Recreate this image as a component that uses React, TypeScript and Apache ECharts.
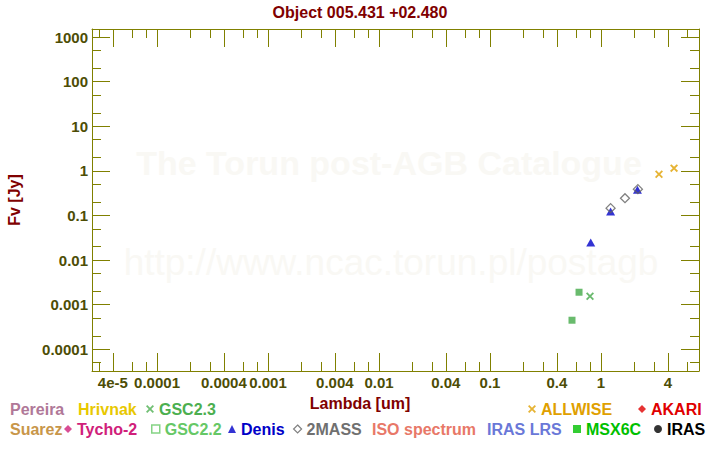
import React, { useEffect, useRef } from "react";
import * as echarts from "echarts";

const titleText = "Object 005.431 +02.480";
const xAxisTitle = "Lambda [um]";
const yAxisTitle = "Fv [Jy]";
const watermarkTitle = "The Torun post-AGB Catalogue";
const watermarkUrl = "http://www.ncac.torun.pl/postagb";

// axis structure (real units)
const xLogMin = -4.586;
const xLogMax = 0.883;
const yLogMin = -4.487;
const yLogMax = 3.18;
const xLabelValues = [4e-5, 1e-4, 4e-4, 1e-3, 4e-3, 0.01, 0.04, 0.1, 0.4, 1, 4];
const xLabelTexts = ["4e-5", "0.0001", "0.0004", "0.001", "0.004", "0.01", "0.04", "0.1", "0.4", "1", "4"];
const xMinorMantissas = [2, 3, 6, 8];
const yLabelValues = [1e-4, 1e-3, 0.01, 0.1, 1, 10, 100, 1000];
const yLabelTexts = ["0.0001", "0.001", "0.01", "0.1", "1", "10", "100", "1000"];
const yMinorMantissas = [2, 5];

// photometry (lambda in um, flux in Jy)
const gsc23Lambda = [0.796];
const gsc23Flux = [0.00155];
const gsc22Lambda = [0.634, 0.548];
const gsc22Flux = [0.0019, 0.000448];
const denisLambda = [0.808, 1.22, 2.13];
const denisFlux = [0.0247, 0.122, 0.375];
const twoMassLambda = [1.22, 1.645, 2.15];
const twoMassFlux = [0.146, 0.244, 0.389];
const allwiseLambda = [3.33, 4.55];
const allwiseFlux = [0.843, 1.15];

const OLIVE = "#808000";
const LABEL = "#4d4d05";
const DARKRED = "#800000";
const FONT = "Liberation Sans";
const CROSS = "path://M0,1.6L1.6,0L5,3.4L8.4,0L10,1.6L6.6,5L10,8.4L8.4,10L5,6.6L1.6,10L0,8.4L3.4,5Z";

const lg = (v: number) => Math.log10(v);
const pts = (xs: number[], ys: number[]) => xs.map((x, i) => [lg(x), lg(ys[i])]);

function minorTicks(mantissas: number[], lo: number, hi: number) {
  const out: number[] = [];
  for (let d = Math.floor(lo) - 1; d <= Math.ceil(hi); d++) {
    mantissas.forEach((m) => {
      const v = d + lg(m);
      if (v > lo && v < hi) out.push(v);
    });
  }
  return out;
}

function fmt(values: number[], texts: string[]) {
  return (v: number) => {
    for (let i = 0; i < values.length; i++) {
      if (Math.abs(lg(values[i]) - v) < 1e-6) return texts[i];
    }
    return "";
  };
}

type LegendSpec = {
  name: string;
  color: string;
  icon: string;
  iconStyle?: any;
  left: number;
  row: number;
};

const legendSpecs: LegendSpec[] = [
  { name: "Pereira", color: "#b07898", icon: "none", left: 5, row: 0 },
  { name: "Hrivnak", color: "#e8c800", icon: "none", left: 73, row: 0 },
  { name: "GSC2.3", color: "#4caf50", icon: CROSS, left: 146, row: 0 },
  { name: "ALLWISE", color: "#e0a000", icon: CROSS, left: 528, row: 0 },
  { name: "AKARI", color: "#e00000", icon: "diamond", left: 638, row: 0 },
  { name: "Suarez", color: "#c8964a", icon: "none", left: 5, row: 1 },
  { name: "Tycho-2", color: "#d0207a", icon: "diamond", left: 64, row: 1 },
  { name: "GSC2.2", color: "#66c866", icon: "rect", iconStyle: { color: "#ffffff", borderColor: "#66c866", borderWidth: 1.5 }, left: 151, row: 1 },
  { name: "Denis", color: "#0000c8", icon: "triangle", left: 228, row: 1 },
  { name: "2MASS", color: "#707070", icon: "diamond", iconStyle: { color: "#ffffff", borderColor: "#606060", borderWidth: 1.2 }, left: 293, row: 1 },
  { name: "ISO spectrum", color: "#e87868", icon: "none", left: 367, row: 1 },
  { name: "IRAS LRS", color: "#6a78d8", icon: "none", left: 482, row: 1 },
  { name: "MSX6C", color: "#00c000", icon: "rect", left: 573, row: 1 },
  { name: "IRAS", color: "#000000", icon: "circle", left: 654, row: 1 },
];

const seriesData: Record<string, number[][]> = {
  "GSC2.3": pts(gsc23Lambda, gsc23Flux),
  "GSC2.2": pts(gsc22Lambda, gsc22Flux),
  Denis: pts(denisLambda, denisFlux),
  "2MASS": pts(twoMassLambda, twoMassFlux),
  ALLWISE: pts(allwiseLambda, allwiseFlux),
};

const seriesStyle: Record<string, any> = {
  "GSC2.3": { symbol: CROSS, symbolSize: 8, itemStyle: { color: "#44a848" } },
  "GSC2.2": { symbol: "rect", symbolSize: 7, itemStyle: { color: "#44aa48" } },
  Denis: { symbol: "triangle", symbolSize: [9, 8], itemStyle: { color: "#0000c8" } },
  "2MASS": { symbol: "diamond", symbolSize: 9, itemStyle: { color: "rgba(0,0,0,0)", borderColor: "#606060", borderWidth: 1.3 } },
  ALLWISE: { symbol: CROSS, symbolSize: 8, itemStyle: { color: "#e0a000" } },
};

export default function App() {
  const ref = useRef<HTMLDivElement>(null);
  useEffect(() => {
    if (!ref.current) return;
    const chart = echarts.init(ref.current, undefined, { renderer: "svg" });
    const xMajor = xLabelValues.map(lg);
    const yMajor = yLabelValues.map(lg);
    const xMinor = minorTicks(xMinorMantissas, xLogMin, xLogMax);
    const yMinor = minorTicks(yMinorMantissas, yLogMin, yLogMax);
    const tickLine = { color: OLIVE, width: 1 };
    const xAxes = [
      {
        position: "bottom",
        axisLine: { show: true, onZero: false, lineStyle: tickLine },
        axisTick: { show: true, inside: true, length: 18, customValues: xMajor, lineStyle: tickLine },
        axisLabel: {
          show: true, customValues: xMajor, formatter: fmt(xLabelValues, xLabelTexts), margin: 4,
          color: LABEL, fontSize: 15, fontWeight: "bold", fontFamily: FONT, hideOverlap: false,
        },
      },
      {
        position: "bottom",
        axisLine: { show: false, onZero: false },
        axisTick: { show: true, inside: true, length: 9, customValues: xMinor, lineStyle: tickLine },
        axisLabel: { show: false },
      },
      {
        position: "top",
        axisLine: { show: true, onZero: false, lineStyle: tickLine },
        axisTick: { show: true, inside: true, length: 18, customValues: xMajor, lineStyle: tickLine },
        axisLabel: { show: false },
      },
      {
        position: "top",
        axisLine: { show: false, onZero: false },
        axisTick: { show: true, inside: true, length: 9, customValues: xMinor, lineStyle: tickLine },
        axisLabel: { show: false },
      },
    ].map((a) => ({ type: "value", min: xLogMin, max: xLogMax, splitLine: { show: false }, ...a }));
    const yAxes = [
      {
        position: "left",
        name: yAxisTitle,
        nameLocation: "middle",
        nameGap: 70,
        nameTextStyle: { color: DARKRED, fontSize: 16, fontWeight: "bold", fontFamily: FONT },
        axisLine: { show: true, onZero: false, lineStyle: tickLine },
        axisTick: { show: true, inside: true, length: 18, customValues: yMajor, lineStyle: tickLine },
        axisLabel: {
          show: true, customValues: yMajor, formatter: fmt(yLabelValues, yLabelTexts), margin: 4,
          color: LABEL, fontSize: 15, fontWeight: "bold", fontFamily: FONT,
        },
      },
      {
        position: "left",
        axisLine: { show: false, onZero: false },
        axisTick: { show: true, inside: true, length: 9, customValues: yMinor, lineStyle: tickLine },
        axisLabel: { show: false },
      },
      {
        position: "right",
        axisLine: { show: true, onZero: false, lineStyle: tickLine },
        axisTick: { show: true, inside: true, length: 18, customValues: yMajor, lineStyle: tickLine },
        axisLabel: { show: false },
      },
      {
        position: "right",
        axisLine: { show: false, onZero: false },
        axisTick: { show: true, inside: true, length: 9, customValues: yMinor, lineStyle: tickLine },
        axisLabel: { show: false },
      },
    ].map((a) => ({ type: "value", min: yLogMin, max: yLogMax, splitLine: { show: false }, ...a }));

    const drawOrder = ["GSC2.2", "GSC2.3", "Denis", "2MASS", "ALLWISE"];
    const series: any[] = legendSpecs.map((s) => {
      const st = seriesStyle[s.name] || { symbol: "circle", symbolSize: 7, itemStyle: { color: s.color } };
      const idx = drawOrder.indexOf(s.name);
      return {
        name: s.name,
        type: "scatter",
        xAxisIndex: 0,
        yAxisIndex: 0,
        data: seriesData[s.name] || [],
        z: 3 + Math.max(idx, 0),
        ...st,
      };
    });

    const legends = legendSpecs.map((s) => ({
      left: s.left,
      top: s.row === 0 ? 401 : 421,
      padding: 0,
      itemWidth: s.icon === "none" ? 0 : 8,
      itemHeight: 8,
      selectedMode: false,
      data: [
        {
          name: s.name,
          icon: s.icon,
          itemStyle: s.iconStyle || { color: s.color, borderWidth: 0 },
        },
      ],
      textStyle: { color: s.color, fontSize: 16, fontWeight: "bold", fontFamily: FONT },
    }));

    chart.setOption({
      animation: false,
      backgroundColor: "#ffffff",
      textStyle: { fontFamily: FONT },
      title: [
        { text: titleText, left: "center", top: 4, padding: 0, textStyle: { color: DARKRED, fontSize: 16, fontWeight: "bold", fontFamily: FONT } },
        { text: xAxisTitle, left: "center", top: 395, padding: 0, textStyle: { color: DARKRED, fontSize: 16, fontWeight: "bold", fontFamily: FONT } },
      ],
      grid: { left: 92, right: 21, top: 29, bottom: 79, containLabel: false, outerBoundsMode: "none" },
      graphic: [
        {
          type: "text", x: 389, y: 163, z: 0, silent: true,
          style: { text: watermarkTitle, fill: "#f9f8f4", fontSize: 34, fontWeight: "bold", fontFamily: FONT, align: "center", verticalAlign: "middle" },
        },
        {
          type: "text", x: 391, y: 262, z: 0, silent: true,
          style: { text: watermarkUrl, fill: "#f9f8f4", fontSize: 37, fontWeight: "normal", fontFamily: FONT, align: "center", verticalAlign: "middle" },
        },
      ],
      legend: legends,
      xAxis: xAxes,
      yAxis: yAxes,
      series,
    });
    return () => chart.dispose();
  }, []);
  return <div ref={ref} style={{ position: "absolute", left: 0, top: 0, width: 720, height: 450 }} />;
}
